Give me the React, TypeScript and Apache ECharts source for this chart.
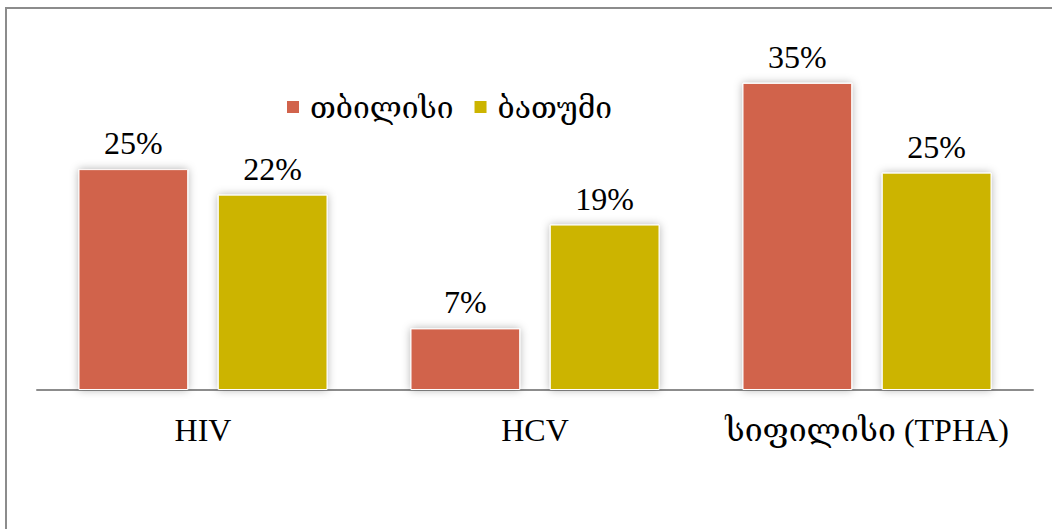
import React, { useEffect, useRef } from "react";
import * as echarts from "echarts";

const categories = ["HIV", "HCV", "სიფილისი (TPHA)"];
const seriesNames = ["თბილისი", "ბათუმი"];
const tbilisiValues = [25.1, 7.0, 34.9];
const batumiValues = [22.2, 18.8, 24.7];
const colors = ["#D1634C", "#CCB400"];

const FONT = "'Liberation Serif', 'DejaVu Serif', serif";

export default function App() {
  const ref = useRef<HTMLDivElement>(null);
  useEffect(() => {
    if (!ref.current) return;
    const chart = echarts.init(ref.current, null, { renderer: "svg" });
    const mkSeries = (name: string, data: number[], color: string) => ({
      name,
      type: "bar",
      data,
      barGap: "27%",
      barCategoryGap: "25%",
      itemStyle: {
        color,
        borderColor: "#ffffff",
        borderWidth: 1,
        shadowBlur: 8,
        shadowColor: "rgba(0,0,0,0.3)",
      },
      label: {
        show: true,
        position: "top",
        distance: 10,
        color: "#000",
        fontFamily: FONT,
        fontSize: 32,
        formatter: (p: any) => Math.round(p.value) + "%",
      },
    });
    chart.setOption({
      animation: false,
      backgroundColor: "#ffffff",
      graphic: [
        {
          type: "rect",
          shape: { x: 6, y: 8, width: 1100, height: 600 },
          style: { fill: "none", stroke: "#8c8c8c", lineWidth: 2 },
          silent: true,
        },
      ],
      legend: {
        left: 285,
        top: 92,
        padding: 0,
        itemWidth: 14,
        itemHeight: 14,
        itemGap: 19,
        icon: "rect",
        textStyle: {
          fontFamily: FONT,
          fontSize: 30,
          color: "#000",
          padding: [0, 0, 0, 5],
        },
        data: seriesNames,
      },
      grid: { left: 37, right: 19, top: 38, bottom: 139 },
      xAxis: {
        type: "category",
        data: categories,
        axisLine: { lineStyle: { color: "#8c8c8c", width: 2 } },
        axisTick: { show: false },
        axisLabel: {
          interval: 0,
          margin: 24,
          color: "#000",
          fontFamily: FONT,
          fontSize: 32,
        },
      },
      yAxis: {
        type: "value",
        min: 0,
        max: 40,
        show: false,
        splitLine: { show: false },
      },
      series: [
        mkSeries(seriesNames[0], tbilisiValues, colors[0]),
        mkSeries(seriesNames[1], batumiValues, colors[1]),
      ],
    });
    return () => chart.dispose();
  }, []);
  return (
    <div
      ref={ref}
      style={{ position: "absolute", left: 0, top: 0, width: 1052, height: 529 }}
    />
  );
}
